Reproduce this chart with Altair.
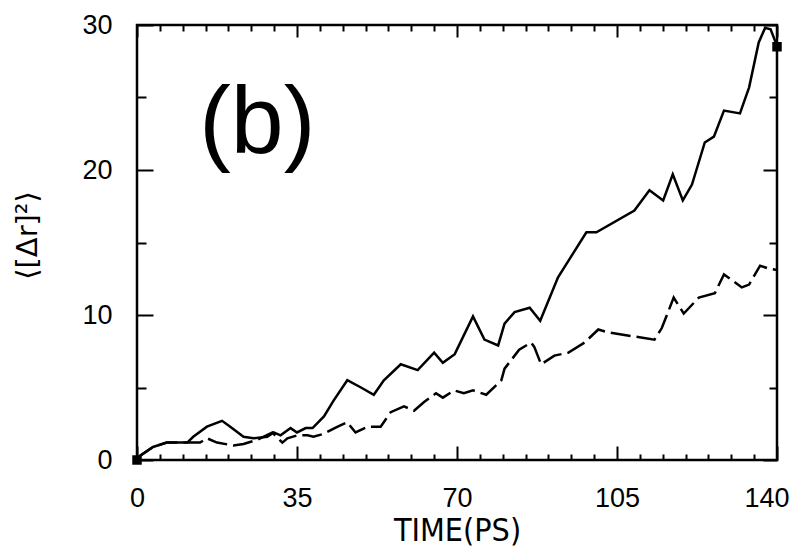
import altair as alt
import pandas as pd

# ---- data ----
solid_t = [0, 0.7, 3.5, 6.5, 11, 12.3, 15.3, 18.6, 20.4, 23.3, 25.5, 28.5, 29.9, 31.4, 33.6, 35,
           36.9, 38.4, 40.9, 43, 46, 49, 51.8, 54, 57.7, 61.4, 65, 66.9, 69.5, 73.5, 76, 79, 80.4,
           82.6, 85.9, 88.2, 92.1, 94.3, 98.3, 100.5, 108.8, 112.1, 115.1, 117.2, 119.4, 121.4,
           124.2, 126.2, 128.4, 131.9, 133.9, 136, 137.4, 138.6, 139.7]
solid_v = [0, 0.3, 0.9, 1.2, 1.2, 1.6, 2.3, 2.7, 2.3, 1.6, 1.5, 1.6, 1.9, 1.7, 2.2, 1.9,
           2.2, 2.2, 3.0, 4.1, 5.5, 5.0, 4.5, 5.5, 6.6, 6.2, 7.4, 6.7, 7.3, 9.9, 8.3, 7.9, 9.4,
           10.2, 10.5, 9.6, 12.6, 13.7, 15.7, 15.7, 17.2, 18.6, 17.9, 19.7, 17.9, 19.0,
           21.9, 22.3, 24.1, 23.9, 25.7, 28.8, 29.8, 29.7, 28.8]

dash_t = [0, 0.7, 3.5, 6.5, 11, 13.8, 15.3, 17.5, 21.1, 23.3, 26.3, 29.6, 31.8, 32.9, 35.1,
          37.3, 38.6, 40.8, 43.9, 46, 47.8, 50.5, 53.3, 55.5, 58.4, 60.6, 62.8, 65.4, 66.9,
          69.4, 71.5, 73.5, 76.4, 79.7, 80.4, 83.6, 86.2, 86.9, 88.4, 91.3, 94.3, 97.9, 100.9,
          103.1, 113.2, 114.8, 117.4, 119.6, 122.9, 126.4, 128.4, 132.3, 133.9, 136.3, 138.2, 140]
dash_v = [0, 0.3, 0.9, 1.2, 1.2, 1.2, 1.5, 1.2, 1.0, 1.1, 1.4, 1.9, 1.2, 1.5, 1.7,
          1.7, 1.6, 1.8, 2.3, 2.6, 1.9, 2.3, 2.3, 3.3, 3.7, 3.4, 4.0, 4.6, 4.3,
          4.8, 4.6, 4.8, 4.5, 5.5, 6.3, 7.6, 8.1, 7.8, 6.6, 7.2, 7.4, 8.1, 9.0,
          8.8, 8.3, 9.1, 11.2, 10.1, 11.2, 11.5, 12.8, 11.9, 12.1, 13.4, 13.2, 13.1]

end_t = [0, 140]
end_v = [0, 28.5]

label_t = [26.3]
label_v = [23.2]
label_txt = ["(b)"]

x_labels = [0, 35, 70, 105]
x_last = [140]
x_major = [0, 35, 70, 105, 140]
x_minor = [5, 10, 15, 20, 25, 30, 40, 45, 50, 55, 60, 65, 75, 80, 85, 90, 95, 100,
           110, 115, 120, 125, 130, 135]
y_major = [0, 10, 20, 30]
y_minor = [5, 15, 25]

W, H = 640, 435

solid = pd.DataFrame({"t": solid_t, "v": solid_v})
dashed = pd.DataFrame({"t": dash_t, "v": dash_v})
ends = pd.DataFrame({"t": end_t, "v": end_v})
lab = pd.DataFrame({"t": label_t, "v": label_v, "s": label_txt})

xs = alt.Scale(domain=[0, 140], nice=False, zero=False)
ys = alt.Scale(domain=[0, 30], nice=False, zero=False)


def tick_axis(orient, offset, values, size):
    return alt.Axis(orient=orient, offset=offset, values=values, ticks=True, tickSize=size,
                    tickWidth=2, tickColor="black", labels=False, domain=False, grid=False,
                    title="")


ax_x_main = alt.Axis(orient="bottom", values=x_labels, ticks=False, tickSize=0, domain=False,
                     grid=False, labelFont="Liberation Sans", labelFontSize=27, labelPadding=25,
                     labelColor="black", labelFlush=False, title="TIME(PS)",
                     titleFont="DejaVu Sans Condensed, Liberation Sans", titleFontSize=32,
                     titleFontWeight="normal", titleColor="black", titleX=320, titleY=70,
                     titleAlign="center", titleBaseline="middle")
ax_x_last = alt.Axis(orient="bottom", values=x_last, ticks=False, tickSize=0, domain=False,
                     grid=False, labelFont="Liberation Sans", labelFontSize=27, labelPadding=25,
                     labelColor="black", labelFlush=False, labelAlign="right", labelOffset=12,
                     title="")
ax_y_main = alt.Axis(orient="left", values=y_major, ticks=False, tickSize=0, domain=False,
                     grid=False, labelFont="Liberation Sans", labelFontSize=27, labelPadding=25,
                     labelColor="black", labelFlush=False, title="⟨[Δr]²⟩",
                     titleFont="DejaVu Sans", titleFontSize=29, titleFontWeight="normal",
                     titleColor="black", titleX=-110, titleY=210, titleAngle=270,
                     titleAlign="center", titleBaseline="middle")

line_solid = alt.Chart(solid).mark_line(color="black", strokeWidth=2.5).encode(
    x=alt.X("t:Q", scale=xs, axis=ax_x_main),
    y=alt.Y("v:Q", scale=ys, axis=ax_y_main),
)

line_dash = alt.Chart(dashed).mark_line(color="black", strokeWidth=2.5,
                                        strokeDash=[20, 6]).encode(
    x=alt.X("t:Q", scale=xs, axis=tick_axis("top", -H, x_major, 14)),
    y=alt.Y("v:Q", scale=ys, axis=tick_axis("right", -W, y_major, 16)),
)

squares = alt.Chart(ends).mark_square(color="black", size=90, opacity=1).encode(
    x=alt.X("t:Q", scale=xs, axis=tick_axis("top", -H, x_minor, 6)),
    y=alt.Y("v:Q", scale=ys, axis=tick_axis("right", -W, y_minor, 9)),
)

ghost1 = alt.Chart(dashed).mark_point(opacity=0).encode(
    x=alt.X("t:Q", scale=xs, axis=tick_axis("bottom", -H, x_major, 12)),
    y=alt.Y("v:Q", scale=ys, axis=tick_axis("left", -W, y_major, 14)),
)

ghost2 = alt.Chart(dashed).mark_point(opacity=0).encode(
    x=alt.X("t:Q", scale=xs, axis=tick_axis("bottom", -H, x_minor, 6)),
    y=alt.Y("v:Q", scale=ys, axis=tick_axis("left", -W, y_minor, 8)),
)

ghost3 = alt.Chart(dashed).mark_point(opacity=0).encode(
    x=alt.X("t:Q", scale=xs, axis=ax_x_last),
    y=alt.Y("v:Q", scale=ys, axis=None),
)

text = alt.Chart(lab).mark_text(font="Liberation Sans", fontSize=95, color="black",
                                align="center", baseline="middle").encode(
    x=alt.X("t:Q", scale=xs, axis=None),
    y=alt.Y("v:Q", scale=ys, axis=None),
    text="s:N",
)

chart = alt.layer(line_solid, line_dash, squares, ghost1, ghost2, ghost3, text).resolve_axis(
    x="independent", y="independent"
).properties(
    width=W, height=H,
    padding={"left": 129, "top": 17, "right": 13, "bottom": 88},
    autosize=alt.AutoSizeParams(type="none"),
    background="white",
).configure_view(stroke="black", strokeWidth=2.5)

chart.save("out.html", embed_options={"renderer": "svg", "actions": False})
